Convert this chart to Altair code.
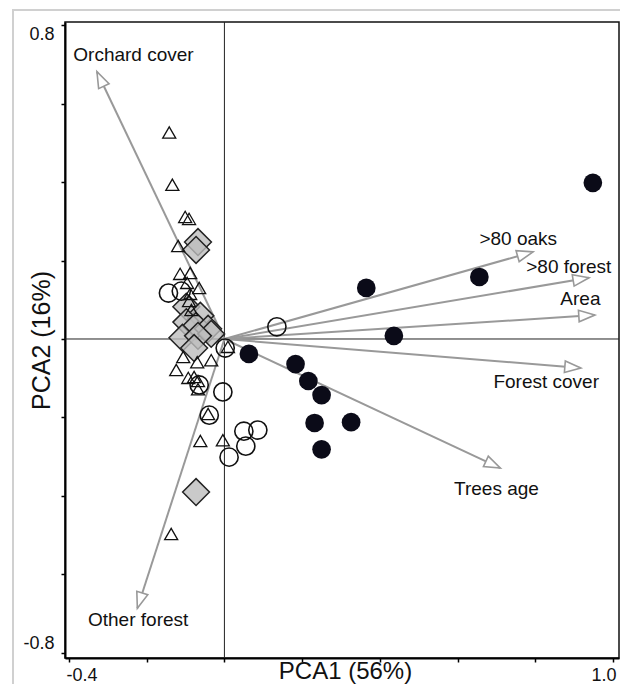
import math
import pandas as pd
import altair as alt

# ---- data ----
black_x = [0.948, 0.656, 0.365, 0.436, 0.063, 0.183, 0.216, 0.250, 0.232, 0.326, 0.250]
black_y = [0.398, 0.158, 0.130, 0.008, -0.038, -0.064, -0.107, -0.143, -0.214, -0.212, -0.281]

open_x = [0.135, 0.002, -0.144, -0.111, -0.065, -0.004, -0.039, 0.050, 0.086, 0.055, 0.012]
open_y = [0.031, -0.023, 0.117, 0.122, -0.117, -0.135, -0.194, -0.235, -0.232, -0.273, -0.301]

diamond_x = [-0.068, -0.073, -0.098, -0.062, -0.098, -0.073, -0.042, -0.034, -0.108, -0.068, -0.078, -0.073]
diamond_y = [0.247, 0.227, 0.082, 0.059, 0.043, 0.033, 0.026, 0.013, 0.003, 0.008, -0.023, -0.390]

tri_x = [-0.142, -0.134, -0.101, -0.091, -0.119, -0.114, -0.088, -0.096, -0.065, -0.088, -0.091, -0.085,
         -0.106, -0.070, -0.034, -0.124, -0.093, -0.078, -0.068, 0.009, -0.068, -0.042, -0.062, -0.004, -0.137]
tri_y = [0.526, 0.393, 0.311, 0.306, 0.237, 0.166, 0.168, 0.143, 0.130, 0.115, 0.097, 0.074,
         -0.046, -0.059, -0.054, -0.079, -0.099, -0.097, -0.107, -0.020, -0.128, -0.191, -0.260, -0.258, -0.497]

arrow_names = ["Orchard cover", ">80 oaks", ">80 forest", "Area", "Forest cover", "Trees age", "Other forest"]
arrow_x = [-0.328, 0.794, 0.938, 0.953, 0.917, 0.710, -0.224]
arrow_y = [0.681, 0.222, 0.156, 0.061, -0.074, -0.329, -0.686]
label_x = [-0.234, 0.756, 0.886, 0.916, 0.828, 0.700, -0.222]
label_y = [0.724, 0.254, 0.184, 0.101, -0.110, -0.383, -0.717]

x_ticks = [-0.4, -0.2, 0, 0.2, 0.4, 0.6, 0.8, 1.0]
y_ticks = [-0.8, -0.6, -0.4, -0.2, 0, 0.2, 0.4, 0.6, 0.8]

# ---- layout ----
W, H = 554, 636
XDOM = [-0.4102, 1.0153]
YDOM = [-0.8128, 0.8077]
F = "Liberation Sans, Arial, sans-serif"

kx = W / (XDOM[1] - XDOM[0])
ky = H / (YDOM[1] - YDOM[0])

xs = alt.Scale(domain=XDOM, nice=False, zero=False)
ys = alt.Scale(domain=YDOM, nice=False, zero=False)

xaxis = alt.Axis(
    values=x_ticks,
    labelExpr="datum.value == -0.4 ? '-0.4' : (datum.value == 1 ? '1.0' : '')",
    title="PCA1 (56%)", grid=False,
    domainColor="#000", domainWidth=2, tickColor="#000", tickWidth=1.5, tickSize=4,
    labelFont=F, labelFontSize=18, labelColor="#111", labelPadding=4,
    labelFlush=10, labelFlushOffset=3, labelOverlap=False,
    titleFont=F, titleFontSize=24, titleFontWeight="normal", titleColor="#111",
    titleX=280, titleY=20, titleBaseline="alphabetic", titleAlign="center",
)
yaxis = alt.Axis(
    values=y_ticks,
    labelExpr="datum.value == 0.8 ? '0.8' : (datum.value == -0.8 ? '-0.8' : '')",
    title="PCA2 (16%)", grid=False,
    domainColor="#000", domainWidth=2, tickColor="#000", tickWidth=1.5, tickSize=4,
    labelFont=F, labelFontSize=18, labelColor="#111", labelPadding=7,
    labelFlush=10, labelFlushOffset=0, labelOverlap=False,
    titleFont=F, titleFontSize=25, titleFontWeight="normal", titleColor="#111",
    titleAngle=270, titleX=-16, titleY=318, titleBaseline="alphabetic", titleAlign="center",
)


def X(f):
    return alt.X(f, type="quantitative", scale=xs, axis=xaxis)


def Y(f):
    return alt.Y(f, type="quantitative", scale=ys, axis=yaxis)


arr = pd.DataFrame({"name": arrow_names, "x": arrow_x, "y": arrow_y})
arr["x0"] = 0.0
arr["y0"] = 0.0
arr["ang"] = [(math.degrees(math.atan2(a * kx, b * ky)) + 360) % 360 for a, b in zip(arrow_x, arrow_y)]
lab = pd.DataFrame({"name": arrow_names, "lx": label_x, "ly": label_y})
zero = pd.DataFrame({"v": [0.0]})

frame = alt.Chart(pd.DataFrame({"a": [0]})).mark_rect(
    fill="white", fillOpacity=0, stroke="#d0d0d0", strokeWidth=2
).encode(x=alt.value(-52), x2=alt.value(700), y=alt.value(-12), y2=alt.value(800))

vrule = alt.Chart(zero).mark_rule(color="#222", strokeWidth=1).encode(x=X("v"))
hrule = alt.Chart(zero).mark_rule(color="#222", strokeWidth=1).encode(y=Y("v"))

lines = alt.Chart(arr).mark_rule(color="#999999", strokeWidth=2).encode(
    x=X("x0"), y=Y("y0"), x2="x", y2="y"
)
head_path = "M0,0L-0.45,1.25L0.45,1.25Z"
heads = alt.Chart(arr).mark_point(
    shape=head_path, filled=True, fill="white", stroke="#999999", strokeWidth=1.6,
    size=655, opacity=1
).encode(x=X("x"), y=Y("y"), angle=alt.Angle("ang:Q", scale=None))

labels = alt.Chart(lab).mark_text(
    font=F, fontSize=19, color="#111", align="center", baseline="middle"
).encode(x=X("lx"), y=Y("ly"), text="name:N")

dia = alt.Chart(pd.DataFrame({"x": diamond_x, "y": diamond_y})).mark_point(
    shape="diamond", filled=True, fill="#bdbdbd", fillOpacity=0.8, stroke="#222",
    strokeWidth=1.5, size=720, opacity=1
).encode(x=X("x"), y=Y("y"))

opn = alt.Chart(pd.DataFrame({"x": open_x, "y": open_y})).mark_point(
    shape="circle", filled=False, stroke="#111", strokeWidth=1.6, size=330, opacity=1
).encode(x=X("x"), y=Y("y"))

tri = alt.Chart(pd.DataFrame({"x": tri_x, "y": tri_y})).mark_point(
    shape="triangle-up", filled=False, stroke="#111", strokeWidth=1.3, size=170, opacity=1
).encode(x=X("x"), y=Y("y"))

blk = alt.Chart(pd.DataFrame({"x": black_x, "y": black_y})).mark_circle(
    size=350, color="#0b0b18", opacity=1
).encode(x=X("x"), y=Y("y"))

chart = alt.layer(
    frame, vrule, hrule, lines, heads, labels, dia, opn, tri, blk
).properties(
    width=W, height=H,
    autosize=alt.AutoSizeParams(type="none"),
    padding={"left": 57, "top": 14, "right": 1, "bottom": 26},
).configure_view(stroke="#111", strokeWidth=1.5)

chart.save("out.html", embed_options={"renderer": "svg", "actions": False})
